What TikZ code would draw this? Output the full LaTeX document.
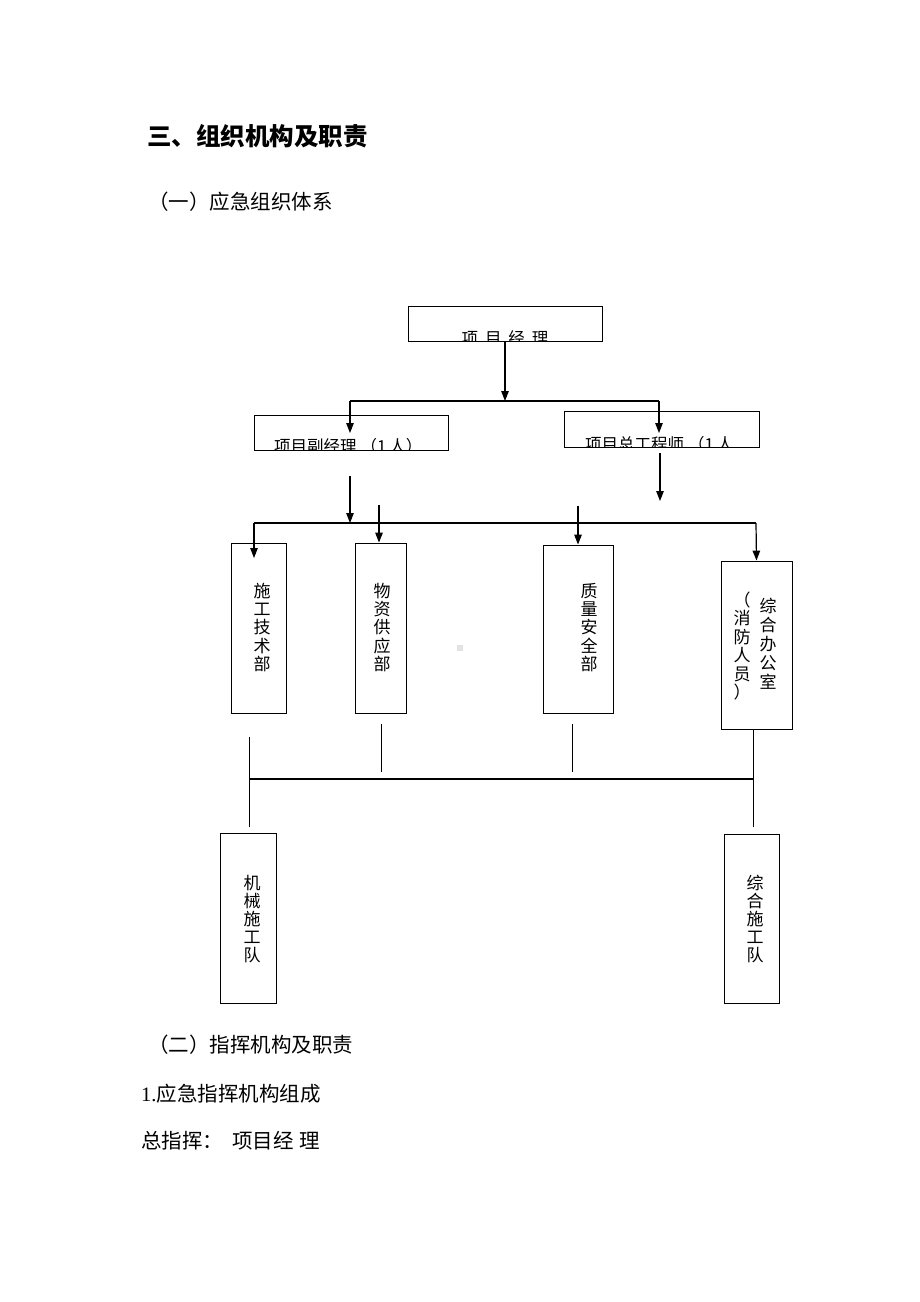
\documentclass[tikz,border=0pt]{standalone}
\usepackage{fontspec}
\setmainfont{Liberation Serif}
\newfontfamily\cjk{Noto Sans CJK SC}
\usetikzlibrary{arrows.meta}
\begin{document}
\begin{tikzpicture}[x=1pt,y=-1pt,
  box/.style={draw=black, line width=0.9pt, fill=none, inner sep=0pt},
  conn/.style={draw=black, line width=1.2pt},
  arr/.style={conn, -{Triangle[length=10pt,width=7.5pt]}},
  vtext/.style={align=center, inner sep=0pt, font=\cjk\fontsize{17}{18.2}\selectfont},
  para/.style={anchor=west, inner sep=0pt, font=\cjk\fontsize{20.5}{24}\selectfont}]
\useasboundingbox (0,0) rectangle (920,1302);
\fill[white] (0,0) rectangle (920,1302);

% headings
\node[anchor=west, inner sep=0pt, font=\cjk\bfseries\fontsize{24.5}{28}\selectfont] (h1) at (147,136) {三、组织机构及职责};
\node[para] (h2) at (148,202) {（一）应急组织体系};

% boxes
\node[box, minimum width=194pt, minimum height=35pt] (pm) at (505,323.5) {};
\node[box, minimum width=194pt, minimum height=35pt] (dpm) at (351,432.5) {};
\node[box, minimum width=195pt, minimum height=36pt] (ce) at (661.5,429) {};
\node[box, minimum width=55pt, minimum height=170pt] (tech) at (258.5,628) {};
\node[box, minimum width=51pt, minimum height=170pt] (sup) at (380.5,628) {};
\node[box, minimum width=70pt, minimum height=168pt] (qs) at (578,629) {};
\node[box, minimum width=71pt, minimum height=168pt] (off) at (756.5,645) {};
\node[box, minimum width=56pt, minimum height=170pt] (mech) at (248,918) {};
\node[box, minimum width=55pt, minimum height=169pt] (gen) at (751.5,918.5) {};

% clipped box titles
\begin{scope}
\clip (pm.north west) rectangle (pm.south east);
\node[anchor=base, inner sep=0pt, font=\cjk\fontsize{16.5}{18}\selectfont] (pmt) at (505,344) {项\hspace{7pt}目\hspace{7pt}经\hspace{7pt}理};
\end{scope}
\begin{scope}
\clip (dpm.north west) rectangle (dpm.south east);
\node[anchor=base west, inner sep=0pt, font=\cjk\fontsize{16.5}{18}\selectfont] (dpmt) at (274,452.5) {项目副经理\hspace{4pt}（1\hspace{3pt}人）};
\end{scope}
\begin{scope}
\clip (ce.north west) rectangle (ce.south east);
\node[anchor=base west, inner sep=0pt, font=\cjk\fontsize{16.5}{18}\selectfont] (cet) at (585,450.5) {项目总工程师\hspace{4pt}（1\hspace{3pt}人};
\end{scope}

% vertical labels
\node[vtext] (techt) at (262,627.5) {施\\工\\技\\术\\部};
\node[vtext] (supt) at (382,627.5) {物\\资\\供\\应\\部};
\node[vtext] (qst) at (589,627.5) {质\\量\\安\\全\\部};
\node[vtext, font=\cjk\fontsize{17}{19}\selectfont] (offt) at (768,644) {综\\合\\办\\公\\室};
\node[vtext, font=\cjk\fontsize{17}{18.4}\selectfont] (offt2) at (742,646) {（\\消\\防\\人\\员\\）};
\node[vtext] (mecht) at (252,919) {机\\械\\施\\工\\队};
\node[vtext] (gent) at (755,919) {综\\合\\施\\工\\队};

% faint mark
\fill[gray!22] (457,645) rectangle (463,651);

% coordinates
\coordinate (j1) at (505,401);
\coordinate (hL) at (350,401);
\coordinate (hR) at (659,401);
\coordinate (tL) at (350,433);
\coordinate (tR) at (659,433);
\coordinate (c1) at (660,453);
\coordinate (c2) at (660,501);
\coordinate (d1) at (350,476);
\coordinate (d2) at (350,523);
\coordinate (mL) at (254,523);
\coordinate (mR) at (756,523);
\coordinate (mLt) at (254,558);
\coordinate (s1) at (379,505);
\coordinate (q1) at (578,506);
\coordinate (l1a) at (249,737);
\coordinate (l1b) at (249,827);
\coordinate (l2a) at (381,724);
\coordinate (l2b) at (381,772);
\coordinate (l3a) at (572,724);
\coordinate (l3b) at (572,772);
\coordinate (l4a) at (753,729);
\coordinate (l4b) at (753,827);
\coordinate (bL) at (249,779);
\coordinate (bR) at (753,779);

% connectors
\draw[arr] (pm.south) -- (j1);
\draw[conn] (hL) -- (hR);
\draw[arr] (hL) -- (tL);
\draw[arr] (hR) -- (tR);
\draw[arr] (c1) -- (c2);
\draw[arr] (d1) -- (d2);
\draw[conn] (mL) -- (mR);
\draw[arr] (mL) -- (mLt);
\draw[arr] (mR) -- (off.north);
\draw[arr] (s1) -- (s1 |- sup.north);
\draw[arr] (q1) -- (q1 |- qs.north);
\draw[conn, line width=1pt] (l1a) -- (l1b);
\draw[conn, line width=1pt] (l2a) -- (l2b);
\draw[conn, line width=1pt] (l3a) -- (l3b);
\draw[conn, line width=1pt] (l4a) -- (l4b);
\draw[conn] (bL) -- (bR);

% lower text
\node[para] (h3) at (148,1045) {（二）指挥机构及职责};
\node[para] (h4) at (141,1094) {{\rmfamily 1.}应急指挥机构组成};
\node[para] (h5) at (141,1141) {总指挥：\hspace{9pt}项目经\hspace{6pt}理};
\end{tikzpicture}
\end{document}
